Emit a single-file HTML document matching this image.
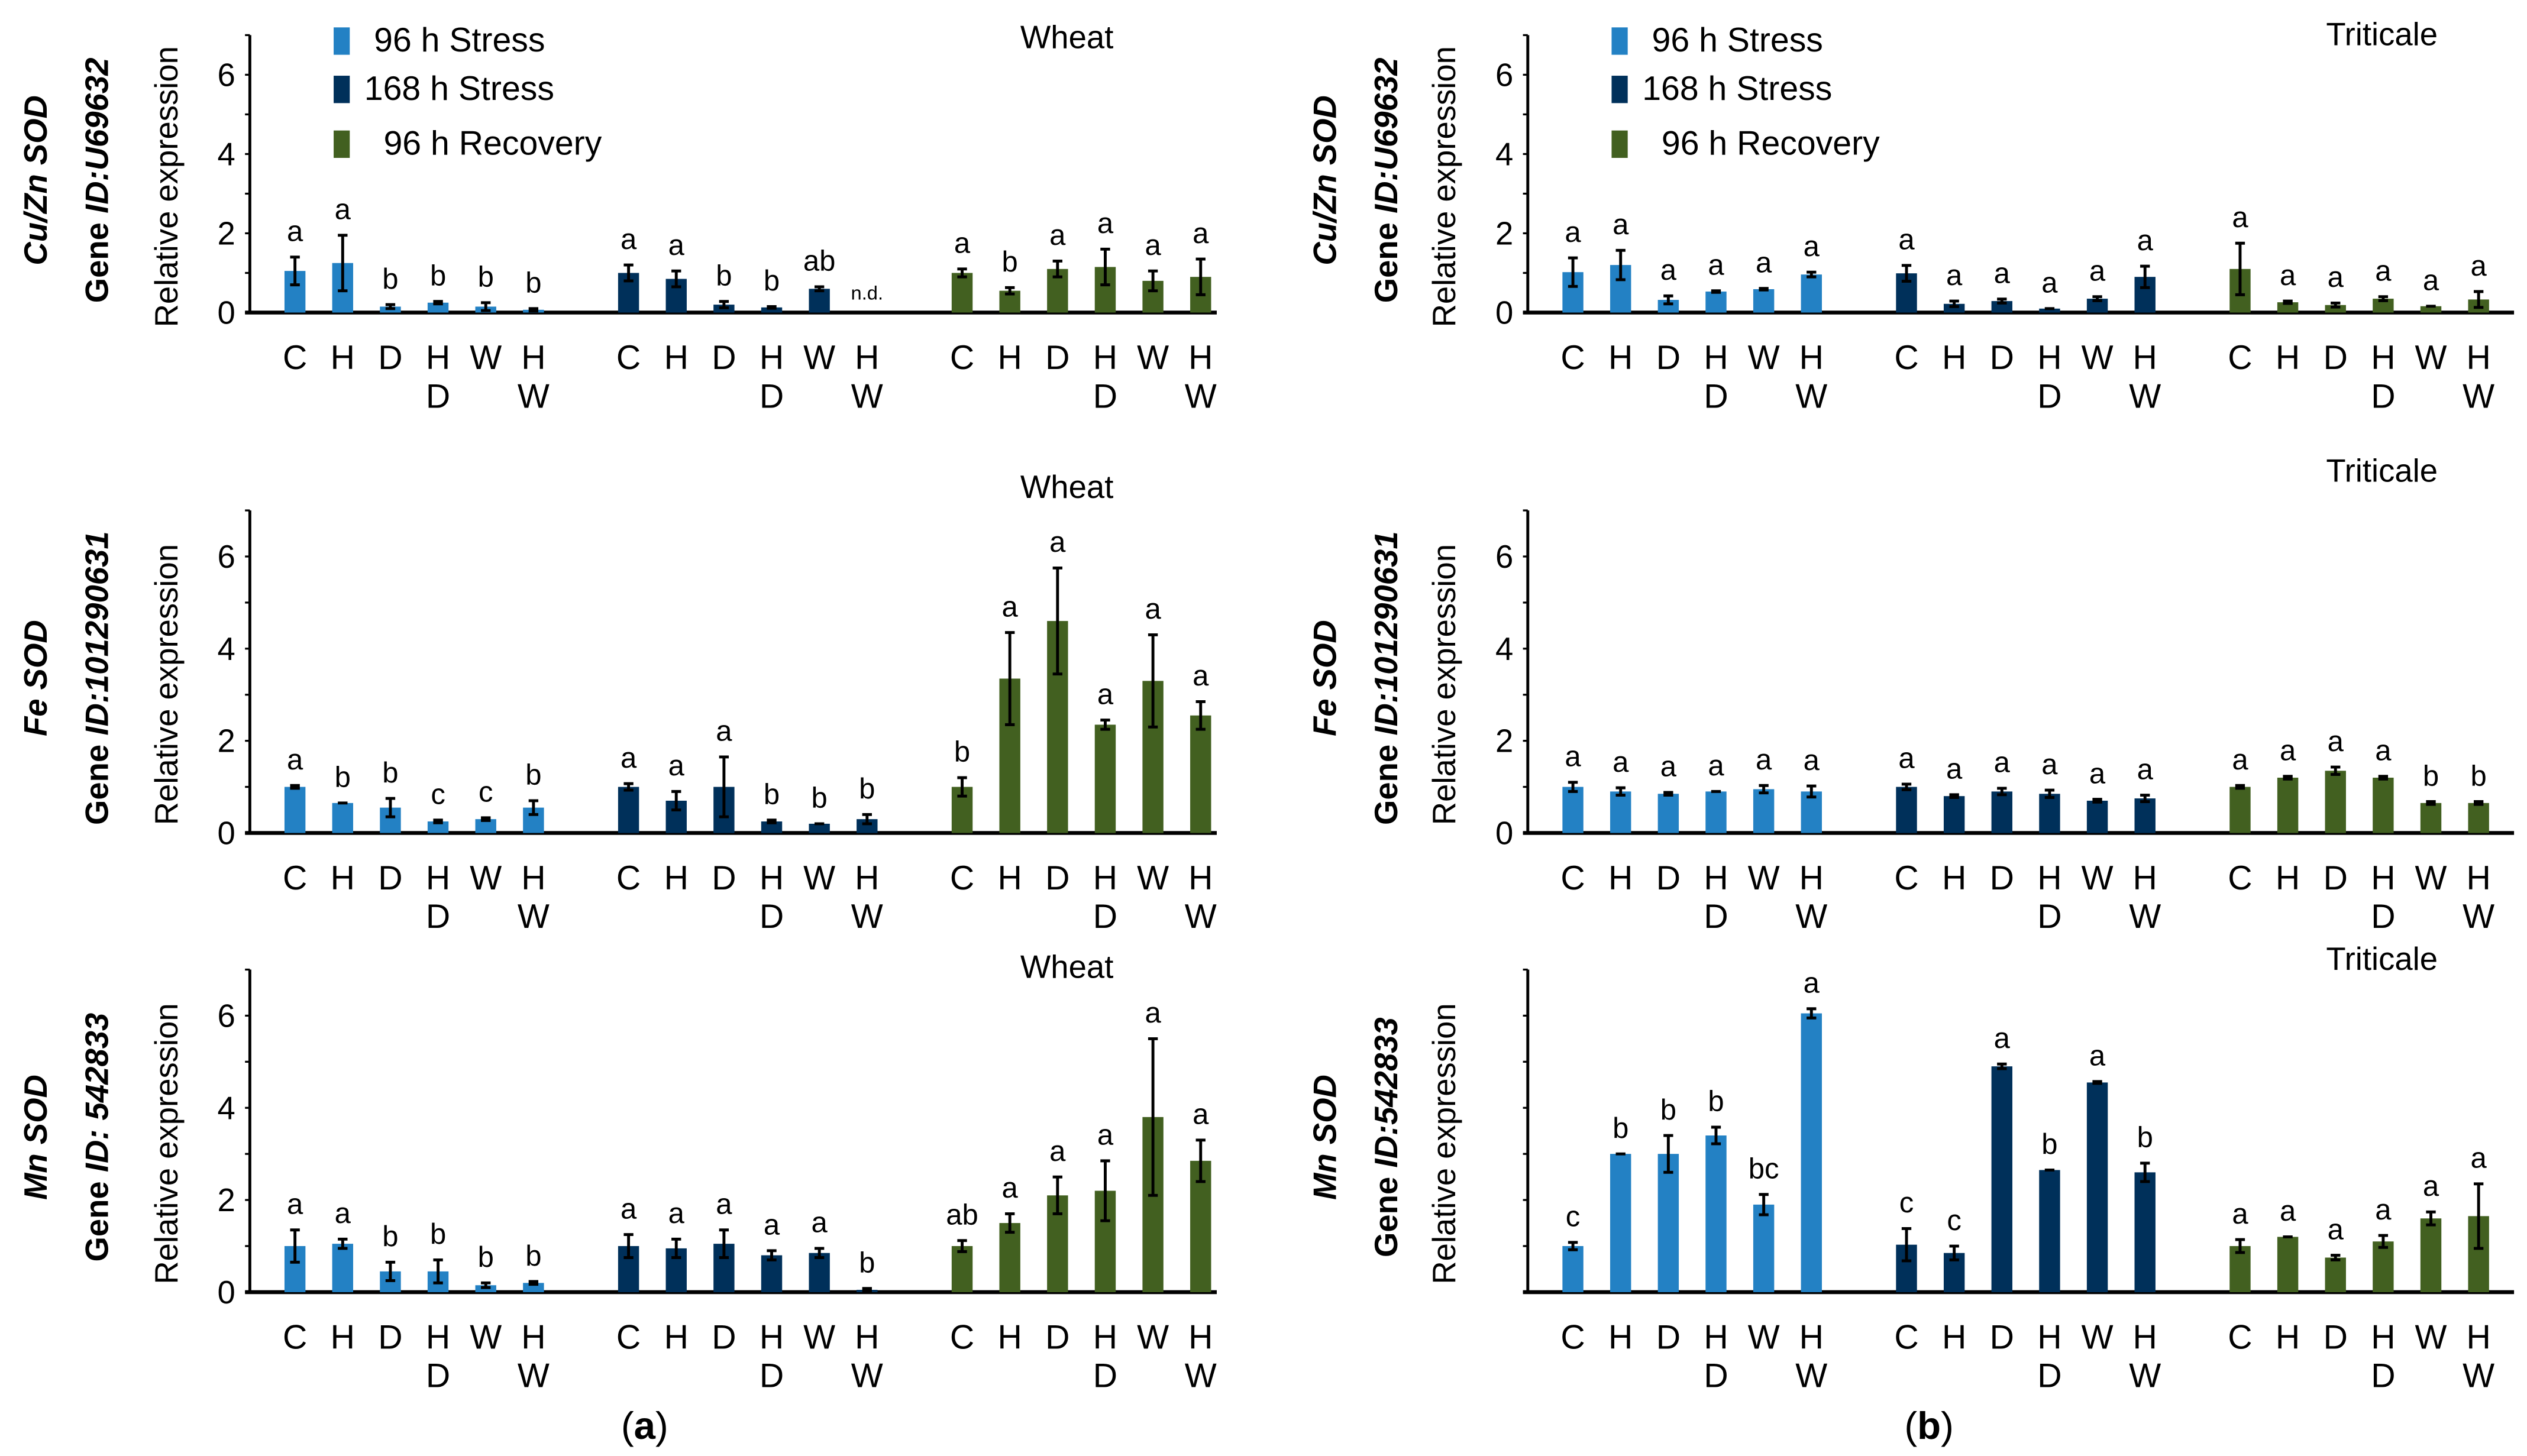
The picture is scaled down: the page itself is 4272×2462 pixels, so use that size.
<!DOCTYPE html>
<html><head><meta charset="utf-8"><style>
html,body{margin:0;padding:0;background:#fff}
svg{display:block}
text{font-family:"Liberation Sans",sans-serif;fill:#000}
</style></head><body>
<svg id="fig" width="4272" height="2462" viewBox="0 0 1568 903.7" xmlns="http://www.w3.org/2000/svg"></svg>
<script>
// ---- data ----
const categories = ["C","H","D","HD","W","HW"];
const groups = ["96 h Stress","168 h Stress","96 h Recovery"];
const yTicks = [0,2,4,6];
// wheat Cu/Zn
const wCuVals = [[1.05,1.25,0.15,0.25,0.15,0.07],[1.0,0.85,0.2,0.13,0.6,0],[1.0,0.55,1.1,1.15,0.8,0.9]];
const wCuErr  = [[0.35,0.7,0.05,0.03,0.1,0.03],[0.2,0.2,0.08,0.02,0.05,0],[0.1,0.08,0.2,0.45,0.25,0.45]];
const wCuLet  = [["a","a","b","b","b","b"],["a","a","b","b","ab","n.d."],["a","b","a","a","a","a"]];
// wheat Fe
const wFeVals = [[1.0,0.65,0.55,0.25,0.3,0.55],[1.0,0.7,1.0,0.25,0.2,0.3],[1.0,3.35,4.6,2.35,3.3,2.55]];
const wFeErr  = [[0.03,0,0.2,0.03,0.03,0.15],[0.07,0.2,0.65,0.03,0,0.1],[0.2,1.0,1.15,0.1,1.0,0.3]];
const wFeLet  = [["a","b","b","c","c","b"],["a","a","a","b","b","b"],["b","a","a","a","a","a"]];
// wheat Mn
const wMnVals = [[1.0,1.05,0.45,0.45,0.15,0.2],[1.0,0.95,1.05,0.8,0.85,0.05],[1.0,1.5,2.1,2.2,3.8,2.85]];
const wMnErr  = [[0.35,0.1,0.2,0.25,0.05,0.03],[0.25,0.2,0.3,0.1,0.1,0.03],[0.12,0.2,0.4,0.65,1.7,0.45]];
const wMnLet  = [["a","a","b","b","b","b"],["a","a","a","a","a","b"],["ab","a","a","a","a","a"]];
// triticale Cu/Zn
const tCuVals = [[1.02,1.2,0.32,0.53,0.59,0.96],[0.99,0.22,0.29,0.1,0.35,0.9],[1.1,0.26,0.19,0.35,0.16,0.33]];
const tCuErr  = [[0.36,0.37,0.1,0.02,0.02,0.06],[0.2,0.07,0.05,0,0.05,0.27],[0.65,0.03,0.05,0.05,0,0.2]];
const tCuLet  = [["a","a","a","a","a","a"],["a","a","a","a","a","a"],["a","a","a","a","a","a"]];
// triticale Fe
const tFeVals = [[1.0,0.9,0.85,0.9,0.95,0.9],[1.0,0.8,0.9,0.85,0.7,0.75],[1.0,1.2,1.35,1.2,0.65,0.65]];
const tFeErr  = [[0.1,0.08,0.03,0,0.08,0.12],[0.06,0.03,0.07,0.08,0.03,0.07],[0.03,0.03,0.08,0.03,0.03,0.03]];
const tFeLet  = [["a","a","a","a","a","a"],["a","a","a","a","a","a"],["a","a","a","a","b","b"]];
// triticale Mn
const tMnVals = [[1.0,3.0,3.0,3.4,1.9,6.05],[1.03,0.85,4.9,2.65,4.55,2.6],[1.0,1.2,0.75,1.1,1.6,1.65]];
const tMnErr  = [[0.08,0,0.4,0.18,0.22,0.1],[0.35,0.15,0.05,0,0.02,0.2],[0.14,0,0.05,0.13,0.14,0.7]];
const tMnLet  = [["c","b","b","b","bc","a"],["c","c","a","b","a","b"],["a","a","a","a","a","a"]];

const colors = ["#2381c4","#00305a","#426020"];
const NS = "http://www.w3.org/2000/svg";
const svg = document.getElementById("fig");
function mk(tag, attrs, parent, txt){
  const e = document.createElementNS(NS, tag);
  for (const k in attrs) e.setAttribute(k, attrs[k]);
  if (txt !== undefined) e.textContent = txt;
  (parent||svg).appendChild(e); return e;
}

const panels = [
 {name:"wheat-cuzn", x0:155, y0:194, unit:24.6, vals:wCuVals, err:wCuErr, lets:wCuLet, title:"Wheat", tx:662, ty:30, labels:true, legend:true, gene:"Cu/Zn SOD", gid:"U69632", gx:22},
 {name:"wheat-fe", x0:155, y0:517, unit:28.6, vals:wFeVals, err:wFeErr, lets:wFeLet, title:"Wheat", tx:662, ty:309, labels:true, gene:"Fe SOD", gid:"101290631", gx:22},
 {name:"wheat-mn", x0:155, y0:802, unit:28.6, vals:wMnVals, err:wMnErr, lets:wMnLet, title:"Wheat", tx:662, ty:607, labels:true, gene:"Mn SOD", gid:" 542833", gx:22},
 {name:"triticale-cuzn", x0:948, y0:194, unit:24.6, vals:tCuVals, err:tCuErr, lets:tCuLet, title:"Triticale", tx:1478, ty:28, labels:true, legend:true, gene:"Cu/Zn SOD", gid:"U69632", gx:822},
 {name:"triticale-fe", x0:948, y0:517, unit:28.6, vals:tFeVals, err:tFeErr, lets:tFeLet, title:"Triticale", tx:1478, ty:299, labels:true, gene:"Fe SOD", gid:"101290631", gx:822},
 {name:"triticale-mn", x0:948, y0:802, unit:28.6, vals:tMnVals, err:tMnErr, lets:tMnLet, title:"Triticale", tx:1478, ty:602, labels:false, gene:"Mn SOD", gid:"542833", gx:822}
];

panels.forEach(p=>{
  const g = mk("g",{});
  
  
  const y = v => p.y0 - v*p.unit;
  const firstBar = p.x0 + 28;
  const xb = (gi,ci) => firstBar + gi*207 + ci*29.6;
  const xEnd = p.x0 + (p.x0<500 ? 600 : 612);
  const ya = mk("line",{x1:p.x0,y1:y(7),x2:p.x0,y2:p.y0+1,stroke:"#000","stroke-width":1.8},g);
  
  
  const xa = mk("line",{x1:p.x0-3,y1:p.y0,x2:xEnd,y2:p.y0,stroke:"#000","stroke-width":2.4},g);
  
  
  for(let t=0;t<=7;t++){
    mk("line",{x1:p.x0-3,y1:y(t),x2:p.x0,y2:y(t),stroke:"#000","stroke-width":1.2},g);
  }
  if(p.labels){
    yTicks.forEach(t=>{
      const tl = mk("text",{x:p.x0-9,y:y(t)+7,"font-size":20,"text-anchor":"end"},g,String(t));
      
      
    });
  }
  const mid = (p.y0+y(7))/2;
  const yt = mk("text",{x:0,y:0,"font-size":20,"text-anchor":"middle",transform:`translate(${p.x0-45},${mid+8}) rotate(-90)`},g,"Relative expression");
  
  
  const gn = mk("text",{x:0,y:0,"font-size":20,"font-style":"italic","font-weight":"bold","text-anchor":"middle",transform:`translate(${p.gx+7},${mid+4}) rotate(-90)`},g,p.gene);
  
  
  const gi = mk("text",{x:0,y:0,"font-size":20,"font-weight":"bold","text-anchor":"middle",transform:`translate(${p.gx+45},${mid+4}) rotate(-90)`},g);
  
  
  mk("tspan",{},gi,"Gene ");
  mk("tspan",{"font-style":"italic"},gi,"ID:"+p.gid);
  const tt = mk("text",{x:p.tx,y:p.ty,"font-size":20,"text-anchor":"middle"},g,p.title);
  
  
  p.vals.forEach((series,si)=>{
    series.forEach((v,ci)=>{
      const cx = xb(si,ci);
      if(v>0){
        const r = mk("rect",{x:cx-6.5,y:y(v),width:13,height:p.y0-y(v),fill:colors[si]},g);
        
        
      }
      const e = p.err[si][ci];
      if(v>0){
        const eb = mk("path",{d:`M${cx},${y(v+e)}V${y(Math.max(0,v-e))}M${cx-3},${y(v+e)}H${cx+3}M${cx-3},${y(Math.max(0,v-e))}H${cx+3}`,stroke:"#000","stroke-width":1.8,fill:"none"},g);
        
        
      }
      const lt = p.lets[si][ci];
      const isnd = lt==="n.d.";
      const lab = mk("text",{x:cx,y:isnd? p.y0-8 : y(v+e)-10,"font-size":isnd?12:18,"text-anchor":"middle"},g,lt);
      
      
      const cat = categories[ci];
      const c1 = mk("text",{x:cx,y:p.y0+35,"font-size":21,"text-anchor":"middle"},g,cat[0]);
      
      
      if(cat.length>1){
        const c2 = mk("text",{x:cx,y:p.y0+59,"font-size":21,"text-anchor":"middle"},g,cat[1]);
        
        
      }
    });
  });
  if(p.legend){
    const lx = p.x0+52;
    const ly = [25,55,89];
    const tx = [p.x0+77,p.x0+71,p.x0+83];
    groups.forEach((gname,i)=>{
      const sw = mk("rect",{x:lx,y:ly[i]-8,width:10,height:17,fill:colors[i]},g);
      
      
      const lt = mk("text",{x:tx[i],y:ly[i]+7,"font-size":21},g,gname);
      
      
    });
  }
});
const ca = mk("text",{x:400,y:893,"font-size":24,"text-anchor":"middle","font-family":"Liberation Serif, serif"});


ca.innerHTML = '(<tspan font-weight="bold">a</tspan>)';
const cb = mk("text",{x:1197,y:893,"font-size":24,"text-anchor":"middle","font-family":"Liberation Serif, serif"});


cb.innerHTML = '(<tspan font-weight="bold">b</tspan>)';
</script>
</body></html>
